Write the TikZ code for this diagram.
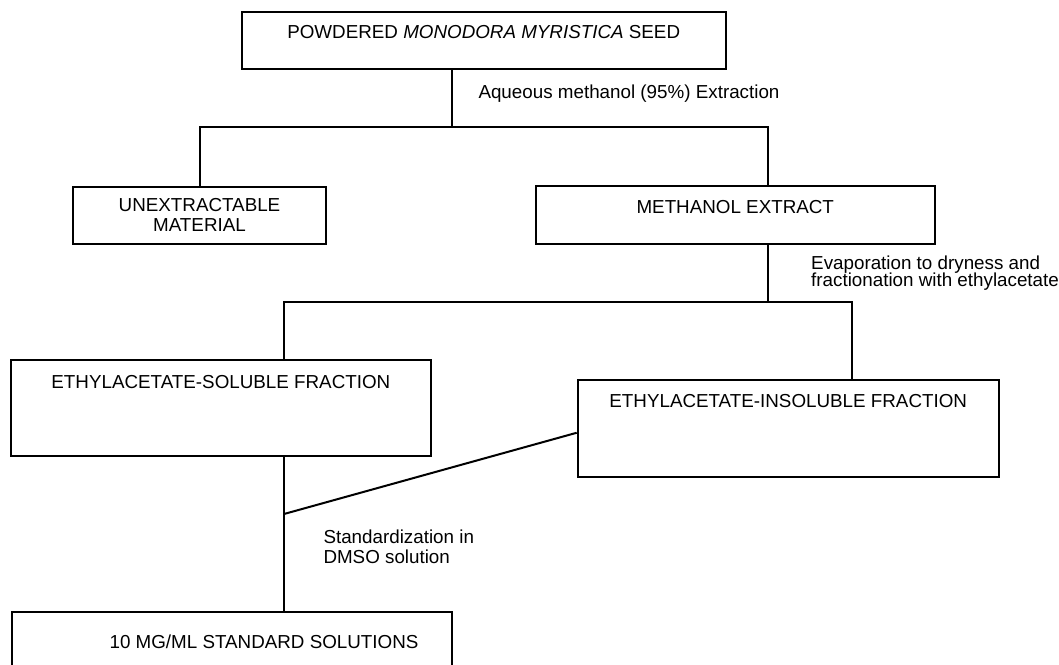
\documentclass[tikz,border=0pt]{standalone}
\usepackage{fontspec}
\setmainfont{Liberation Sans}
\begin{document}
\begin{tikzpicture}[x=1pt,y=-1pt,
  box/.style={draw,line width=2pt,inner sep=0pt,align=center,font=\fontsize{18.8}{20}\selectfont},
  lbl/.style={inner sep=0pt,align=left,anchor=base west,font=\fontsize{18.8}{20}\selectfont},
  link/.style={line width=2pt}]
  \useasboundingbox (0,0) rectangle (1059,664);
  % Boxes of the extraction scheme
  \node[box,minimum width=484pt,text height=26.7pt,text depth=30.9pt]    (seed)  at (483.7,40.5)   {POWDERED \textit{MONODORA MYRISTICA} SEED};
  \node[box,minimum width=252.4pt,minimum height=57.3pt]                  (unex)  at (199.5,215.35) {UNEXTRACTABLE\\MATERIAL};
  \node[box,minimum width=399.5pt,text height=27.5pt,text depth=30pt]    (meth)  at (735.25,214.75) {METHANOL EXTRACT};
  \node[box,minimum width=420.3pt,text height=28.1pt,text depth=67.6pt]  (sol)   at (220.85,408.15) {ETHYLACETATE-SOLUBLE FRACTION};
  \node[box,minimum width=421pt,text height=27.4pt,text depth=69.3pt]    (insol) at (788.2,428.35) {ETHYLACETATE-INSOLUBLE FRACTION};
  \node[box,minimum width=440.6pt,text height=36.7pt,text depth=20.8pt]  (std)   at (232,640.45)   {\hspace*{64pt}10 MG/ML STANDARD SOLUTIONS};
  % branch points
  \coordinate (split1) at (451.7,127);
  \coordinate (split2) at (767.5,301.7);
  \coordinate (fork)   at (851.5,301.7);
  \coordinate (merge)  at (284,514);
  \draw[link] (seed.south -| split1) -- (split1);
  \draw[link] (unex.north) -- (unex.north |- split1) -- (split1 -| split2) -- (meth.north -| split2);
  \draw[link] (meth.south -| split2) -- (split2);
  \draw[link] (sol.north -| merge) -- (merge |- split2) -- (fork) -- (insol.north -| fork);
  \draw[link] (sol.south -| merge) -- (std.north -| merge);
  \draw[link] (merge) -- ([yshift=-4.4pt]insol.west);
  % step labels (anchored on the last line)
  \node[lbl] (aq)   at (478.3,98.4)  {Aqueous methanol (95\%) Extraction};
  \node[lbl] (evap) at (811,286.3)   {Evaporation to dryness and\\[-3pt]fractionation with ethylacetate};
  \node[lbl] (dmso) at (323.3,563.4) {Standardization in\\DMSO solution};
\end{tikzpicture}
\end{document}
